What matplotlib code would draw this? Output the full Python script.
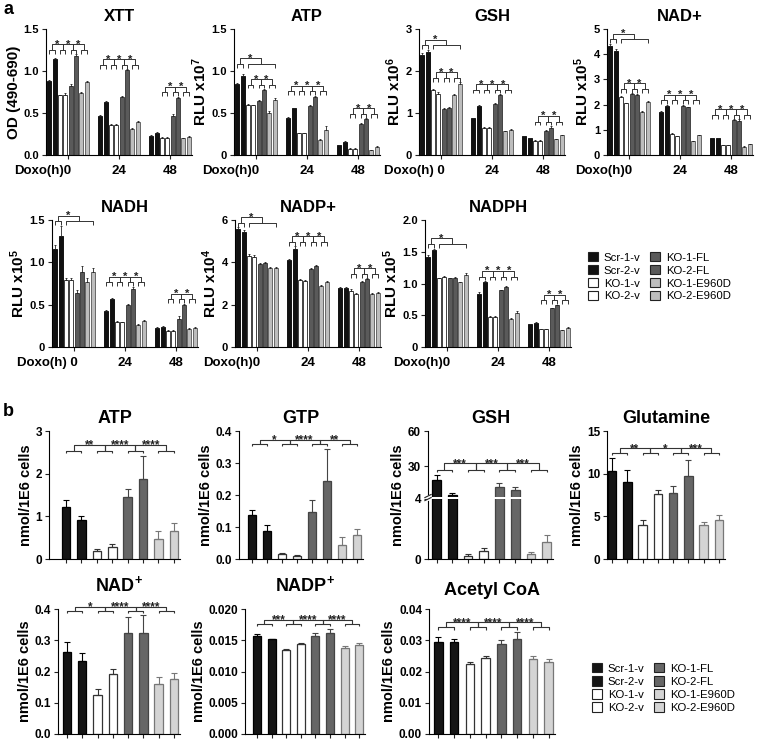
import numpy as np
import matplotlib
matplotlib.use('Agg')
import matplotlib.pyplot as plt
from matplotlib.patches import Patch
from matplotlib.transforms import ScaledTranslation

plt.rcParams['font.family'] = ['Liberation Sans', 'DejaVu Sans']
plt.rcParams['mathtext.fontset'] = 'custom'
plt.rcParams['mathtext.rm'] = 'Liberation Sans:bold'
plt.rcParams['mathtext.bf'] = 'Liberation Sans:bold'
plt.rcParams['mathtext.it'] = 'Liberation Sans:bold'
plt.rcParams['axes.linewidth'] = 0.8

# ---------------- data ----------------
lines = ['Scr-1-v', 'Scr-2-v', 'KO-1-v', 'KO-2-v', 'KO-1-FL', 'KO-2-FL', 'KO-1-E960D', 'KO-2-E960D']
doxo_hours = ['0', '24', '48']

# panel a: rows = doxo 0 / 24 / 48 h, columns = cell lines
xtt = [[0.885, 1.14, 0.71, 0.72, 0.82, 1.18, 0.74, 0.87],
       [0.47, 0.63, 0.36, 0.36, 0.69, 1.01, 0.31, 0.39],
       [0.23, 0.265, 0.205, 0.205, 0.47, 0.68, 0.20, 0.22]]
xtt_err = [[0.01, 0.01, 0.01, 0.015, 0.02, 0.02, 0.01, 0.01],
           [0.01, 0.01, 0.005, 0.005, 0.015, 0.01, 0.01, 0.01],
           [0.005, 0.005, 0.005, 0.005, 0.015, 0.015, 0.005, 0.01]]
atp_a = [[0.84, 0.945, 0.60, 0.59, 0.64, 0.775, 0.50, 0.66],
         [0.44, 0.555, 0.26, 0.26, 0.585, 0.695, 0.18, 0.30],
         [0.12, 0.16, 0.075, 0.075, 0.37, 0.425, 0.06, 0.10]]
atp_a_err = [[0.015, 0.015, 0.01, 0.01, 0.01, 0.01, 0.02, 0.02],
             [0.01, 0.01, 0.005, 0.005, 0.01, 0.01, 0.01, 0.04],
             [0.005, 0.005, 0.005, 0.005, 0.01, 0.01, 0.005, 0.01]]
gsh_a = [[2.38, 2.46, 1.55, 1.46, 1.09, 1.13, 1.43, 1.69],
         [0.87, 1.17, 0.65, 0.65, 1.22, 1.43, 0.57, 0.60],
         [0.45, 0.40, 0.34, 0.34, 0.56, 0.65, 0.37, 0.47]]
gsh_a_err = [[0.06, 0.05, 0.03, 0.03, 0.02, 0.02, 0.03, 0.04],
             [0.02, 0.03, 0.01, 0.01, 0.02, 0.02, 0.01, 0.01],
             [0.01, 0.01, 0.01, 0.01, 0.03, 0.04, 0.02, 0.01]]
nad_a = [[4.34, 4.14, 2.29, 2.05, 2.42, 2.39, 1.71, 2.10],
         [1.71, 1.96, 0.83, 0.75, 1.96, 1.89, 0.55, 0.78],
         [0.66, 0.66, 0.38, 0.38, 1.37, 1.36, 0.32, 0.43]]
nad_a_err = [[0.07, 0.05, 0.04, 0.03, 0.03, 0.04, 0.03, 0.03],
             [0.03, 0.03, 0.03, 0.02, 0.03, 0.03, 0.02, 0.02],
             [0.02, 0.02, 0.02, 0.02, 0.05, 0.05, 0.02, 0.02]]
nadh_a = [[1.16, 1.31, 0.79, 0.79, 0.64, 0.89, 0.77, 0.89],
          [0.43, 0.57, 0.30, 0.29, 0.50, 0.69, 0.265, 0.31],
          [0.23, 0.24, 0.19, 0.19, 0.33, 0.50, 0.21, 0.23]]
nadh_a_err = [[0.05, 0.12, 0.03, 0.03, 0.03, 0.07, 0.04, 0.04],
              [0.01, 0.01, 0.01, 0.01, 0.01, 0.02, 0.01, 0.01],
              [0.005, 0.005, 0.005, 0.005, 0.04, 0.01, 0.01, 0.01]]
nadp_a = [[5.58, 5.42, 4.30, 4.25, 3.90, 3.97, 3.75, 3.75],
          [4.10, 4.65, 3.16, 3.11, 3.69, 3.83, 2.88, 3.07],
          [2.80, 2.80, 2.65, 2.52, 3.05, 3.19, 2.50, 2.55]]
nadp_a_err = [[0.08, 0.10, 0.08, 0.08, 0.08, 0.05, 0.05, 0.05],
              [0.08, 0.10, 0.06, 0.05, 0.05, 0.06, 0.05, 0.06],
              [0.05, 0.05, 0.07, 0.05, 0.05, 0.06, 0.05, 0.05]]
nadph_a = [[1.42, 1.52, 1.08, 1.11, 1.08, 1.09, 1.02, 1.14],
           [0.84, 1.02, 0.48, 0.48, 0.89, 0.95, 0.445, 0.54],
           [0.36, 0.38, 0.28, 0.28, 0.61, 0.655, 0.27, 0.30]]
nadph_a_err = [[0.03, 0.03, 0.01, 0.01, 0.01, 0.01, 0.01, 0.03],
               [0.02, 0.02, 0.01, 0.01, 0.01, 0.01, 0.01, 0.02],
               [0.01, 0.01, 0.005, 0.005, 0.01, 0.01, 0.005, 0.01]]

# panel b: one value per cell line
atp_b = [1.21, 0.91, 0.19, 0.28, 1.46, 1.87, 0.48, 0.65]
atp_b_err = [0.17, 0.09, 0.035, 0.07, 0.17, 0.55, 0.165, 0.20]
gtp_b = [0.138, 0.088, 0.0155, 0.008, 0.148, 0.245, 0.045, 0.076]
gtp_b_err = [0.014, 0.017, 0.0035, 0.004, 0.036, 0.10, 0.025, 0.017]
gsh_b = [18.3, 5.6, 0.22, 0.51, 12.7, 9.8, 0.35, 1.10]
gsh_b_err = [3.9, 1.9, 0.11, 0.22, 2.8, 2.8, 0.09, 0.51]
glut_b = [10.3, 9.07, 4.0, 7.6, 7.7, 9.73, 3.93, 4.6]
glut_b_err = [1.5, 1.35, 0.6, 0.5, 0.86, 1.87, 0.4, 0.57]
nad_b = [0.264, 0.235, 0.125, 0.193, 0.324, 0.324, 0.160, 0.177]
nad_b_err = [0.032, 0.025, 0.019, 0.014, 0.049, 0.056, 0.024, 0.018]
nadp_b = [0.01567, 0.01514, 0.01352, 0.01436, 0.01567, 0.0162, 0.01384, 0.01425]
nadp_b_err = [0.0003, 0.0001, 0.00016, 0.00024, 0.0005, 0.0006, 0.00026, 0.00035]
acoa_b = [0.02956, 0.02945, 0.02245, 0.0243, 0.0287, 0.0305, 0.0240, 0.0230]
acoa_b_err = [0.0015, 0.0010, 0.0005, 0.0008, 0.0013, 0.0022, 0.0009, 0.0010]

atp_b_stars = ['**', '****', '****']
gtp_b_stars = ['*', '****', '**']
gsh_b_stars = ['***', '***', '***']
glut_b_stars = ['**', '*', '***']
nad_b_stars = ['*', '****', '****']
nadp_b_stars = ['***', '****', '****']
acoa_b_stars = ['****', '****', '****']

# ---------------- styles ----------------
fill_a = ['#111111', '#111111', '#ffffff', '#ffffff', '#5a5a5a', '#5a5a5a', '#bdbdbd', '#bdbdbd']
edge_a = ['#000000', '#000000', '#222222', '#222222', '#333333', '#333333', '#555555', '#555555']
fill_b = ['#151515', '#151515', '#ffffff', '#ffffff', '#666666', '#666666', '#d4d4d4', '#d4d4d4']
edge_b = ['#000000', '#000000', '#333333', '#333333', '#444444', '#444444', '#777777', '#777777']
LINE_C = '#333333'

W, H = 758, 742
fig = plt.figure(figsize=(W / 100, H / 100), dpi=100)


def add_ax(l, t, r, b):
    return fig.add_axes([l / W, 1 - b / H, (r - l) / W, (b - t) / H])


def star(ax, x, y, s, fs):
    ax.annotate(s, xy=(x, y), xytext=(0, -(0.43 * fs - 1.0)), textcoords='offset points',
                ha='center', va='baseline', fontsize=fs, fontweight='bold', color='#222222',
                annotation_clip=False)


def bracket(ax, x1, x2, y, drop, lw=0.7):
    ax.plot([x1, x1, x2, x2], [y - drop, y, y, y - drop], color=LINE_C, lw=lw,
            clip_on=False, zorder=5, solid_capstyle='butt')


def style_axis(ax):
    for s in ['top', 'right']:
        ax.spines[s].set_visible(False)
    ax.tick_params(axis='both', length=3, width=0.8, pad=2, color='#222222')


ALL4 = ([0, 1, 2, 3], [(0, 1), (1, 2), (2, 3)])
LAST3 = ([1, 2, 3], [(1, 2), (2, 3)])
NONE = ([], [])

STEP_A = 0.105
WIDTH_A = 0.08


def draw_a(box, vals, errs, ymax, yticks, ytl, ylabel, title, brackets, doxo='Doxo(h)0'):
    ax = add_ax(*box)
    style_axis(ax)
    offs = (np.arange(8) - 3.5) * STEP_A
    for g in range(3):
        xs = g + offs
        ax.bar(xs, vals[g], width=WIDTH_A, color=fill_a, edgecolor=edge_a, linewidth=0.6, zorder=2)
        ax.errorbar(xs, vals[g], yerr=[np.zeros(8), errs[g]], fmt='none', ecolor='#222222',
                    elinewidth=0.6, capsize=1.0, capthick=0.6, zorder=3)
    ax.set_xlim(-0.43, 2.43)
    ax.set_ylim(0, ymax)
    ax.set_yticks(yticks)
    ax.set_yticklabels(ytl, fontsize=8, fontweight='bold')
    ax.set_xticks([0, 1, 2])
    labs = ax.set_xticklabels([doxo] + doxo_hours[1:], fontsize=9.5, fontweight='bold')
    ax.tick_params(axis='x', pad=4)
    labs[0].set_ha('right')
    labs[0].set_transform(labs[0].get_transform() + ScaledTranslation(2.7 / 72, 0, fig.dpi_scale_trans))
    ax.set_ylabel(ylabel, fontsize=11, fontweight='bold', labelpad=2)
    ax.set_title(title, fontsize=12, fontweight='bold', pad=6)

    pad = 0.035 * ymax
    d = 0.045 * ymax
    tick = 0.03 * ymax
    for g in range(3):
        xs = g + offs
        tops = np.array(vals[g]) + np.array(errs[g])
        top_flag, (pairs, links) = brackets[g]
        lconn = None
        if pairs:
            idx = [k for p in pairs for k in (2 * p, 2 * p + 1)]
            L = tops[idx].max() + pad
            centers = {}
            for p in pairs:
                bracket(ax, xs[2 * p], xs[2 * p + 1], L, tick)
                centers[p] = (xs[2 * p] + xs[2 * p + 1]) / 2
            lconn = L + d
            for (p, q) in links:
                bracket(ax, centers[p], centers[q], lconn, d)
                star(ax, (centers[p] + centers[q]) / 2, lconn, '*', 8)
        if top_flag:
            Lt = tops.max() + pad
            if lconn is not None:
                Lt = max(Lt, lconn + 0.12 * ymax)
            bracket(ax, xs[0], xs[1], Lt, tick)
            bracket(ax, xs[2], xs[7], Lt, tick)
            c1 = (xs[0] + xs[1]) / 2
            c2 = (xs[2] + xs[7]) / 2
            bracket(ax, c1, c2, Lt + d, d)
            star(ax, (c1 + c2) / 2, Lt + d, '*', 8)
    return ax


# ---------- panel a ----------
draw_a((46, 29, 192, 155), xtt, xtt_err, 1.5, [0, 0.5, 1.0, 1.5], ['0.0', '0.5', '1.0', '1.5'],
       'OD (490-690)', 'XTT', [(False, ALL4), (False, ALL4), (False, LAST3)])
draw_a((234, 29, 380, 155), atp_a, atp_a_err, 1.5, [0, 0.5, 1.0, 1.5], ['0', '0.5', '1.0', '1.5'],
       r'RLU x10$^{7}$', 'ATP', [(True, LAST3), (False, ALL4), (False, LAST3)])
draw_a((419, 29, 565, 155), gsh_a, gsh_a_err, 3, [0, 1, 2, 3], ['0', '1', '2', '3'],
       r'RLU x10$^{6}$', 'GSH', [(True, LAST3), (False, ALL4), (False, LAST3)], doxo='Doxo(h) 0')
draw_a((607, 29, 753, 155), nad_a, nad_a_err, 5, [0, 1, 2, 3, 4, 5], ['0', '1', '2', '3', '4', '5'],
       r'RLU x10$^{5}$', 'NAD+', [(True, LAST3), (False, ALL4), (False, ALL4)])
draw_a((52, 220, 198, 347), nadh_a, nadh_a_err, 1.5, [0, 0.5, 1.0, 1.5], ['0', '0.5', '1.0', '1.5'],
       r'RLU x10$^{5}$', 'NADH', [(True, NONE), (False, ALL4), (False, LAST3)], doxo='Doxo(h) 0')
draw_a((235, 220, 381, 347), nadp_a, nadp_a_err, 6, [0, 2, 4, 6], ['0', '2', '4', '6'],
       r'RLU x10$^{4}$', 'NADP+', [(True, NONE), (False, ALL4), (False, LAST3)])
draw_a((425, 220, 571, 347), nadph_a, nadph_a_err, 2.0, [0, 0.5, 1.0, 1.5, 2.0],
       ['0', '0.5', '1.0', '1.5', '2.0'],
       r'RLU x10$^{5}$', 'NADPH', [(True, NONE), (False, ALL4), (False, LAST3)])

# ---------- panel b ----------
WIDTH_B = 0.55


def draw_b(box, xleft, vals, errs, ymax, yticks, ytl, title, stars, lv_pair, lv_conn, drop,
           scale=None, tpad=6):
    ax = add_ax(*box)
    style_axis(ax)
    if scale is not None:
        ax.set_yscale('function', functions=scale)
    xs = np.arange(8)
    ax.bar(xs, vals, width=WIDTH_B, color=fill_b, edgecolor=edge_b, linewidth=0.9, zorder=2)
    for i in range(8):
        ax.errorbar(xs[i], vals[i], yerr=[[0], [errs[i]]], fmt='none', ecolor=edge_b[i],
                    elinewidth=0.8, capsize=2.2, capthick=0.8, zorder=3)
    ax.set_xlim(xleft, 7.4)
    ax.set_ylim(0, ymax)
    ax.set_yticks(yticks)
    ax.set_yticklabels(ytl, fontsize=8.5, fontweight='bold')
    ax.set_xticks(xs)
    ax.set_xticklabels([])
    ax.set_ylabel('nmol/1E6 cells', fontsize=10.5, fontweight='bold', labelpad=2)
    ax.set_title(title, fontsize=13, fontweight='bold', pad=tpad)
    centers = []
    for p in range(4):
        bracket(ax, xs[2 * p], xs[2 * p + 1], lv_pair, drop, lw=0.8)
        centers.append((xs[2 * p] + xs[2 * p + 1]) / 2)
    for k in range(3):
        bracket(ax, centers[k], centers[k + 1], lv_conn, lv_conn - lv_pair, lw=0.8)
        star(ax, (centers[k] + centers[k + 1]) / 2, lv_conn, stars[k], 8.5)
    return ax


draw_b((49, 431, 180, 559), -1.11, atp_b, atp_b_err, 3, [0, 1, 2, 3], ['0', '1', '2', '3'],
       'ATP', atp_b_stars, 2.53, 2.68, 0.05)
draw_b((239, 431, 363, 559), -0.87, gtp_b, gtp_b_err, 0.4, [0, 0.1, 0.2, 0.3, 0.4],
       ['0.0', '0.1', '0.2', '0.3', '0.4'], 'GTP', gtp_b_stars, 0.36, 0.373, 0.007)


def gsh_fwd(v):
    v = np.asarray(v, dtype=float)
    return np.where(v <= 4, v * 0.1175,
                    np.where(v <= 4.5, 0.47 + (v - 4) * 0.04, 0.49 + (v - 4.5) * (0.51 / 55.5)))


def gsh_inv(f):
    f = np.asarray(f, dtype=float)
    return np.where(f <= 0.47, f / 0.1175,
                    np.where(f <= 0.49, 4 + (f - 0.47) / 0.04, 4.5 + (f - 0.49) * (55.5 / 0.51)))


axg = draw_b((428, 431, 553, 559), -0.54, gsh_b, gsh_b_err, 60, [0, 4, 30, 60],
             ['0', '4', '30', '60'], 'GSH', gsh_b_stars, 26.7, 32.4, 1.4,
             scale=(gsh_fwd, gsh_inv))
axg.axhspan(4.05, 4.45, xmin=0, xmax=1, color='white', zorder=4, lw=0)
for fy in (0.468, 0.492):
    axg.plot([-0.025, 0.025], [fy - 0.012, fy + 0.012], transform=axg.transAxes,
             color='#222222', lw=0.8, clip_on=False, zorder=6)
axg.plot([0, 0], [0.468, 0.492], transform=axg.transAxes, color='white', lw=2.0,
         clip_on=False, zorder=5)

draw_b((607, 431, 725, 559), -0.33, glut_b, glut_b_err, 15, [0, 5, 10, 15],
       ['0', '5', '10', '15'], 'Glutamine', glut_b_stars, 12.4, 12.95, 0.25)
draw_b((58, 609, 180, 734), -0.59, nad_b, nad_b_err, 0.4, [0, 0.1, 0.2, 0.3, 0.4],
       ['0.0', '0.1', '0.2', '0.3', '0.4'], r'NAD$^{+}$', nad_b_stars, 0.394, 0.407, 0.007,
       tpad=13)
draw_b((245, 609, 365, 734), -0.82, nadp_b, nadp_b_err, 0.02,
       [0, 0.005, 0.010, 0.015, 0.020], ['0.000', '0.005', '0.010', '0.015', '0.020'],
       r'NADP$^{+}$', nadp_b_stars, 0.0176, 0.0183, 0.00035, tpad=13)
draw_b((429, 609, 555, 734), -0.59, acoa_b, acoa_b_err, 0.04,
       [0, 0.01, 0.02, 0.03, 0.04], ['0.00', '0.01', '0.02', '0.03', '0.04'],
       'Acetyl CoA', acoa_b_stars, 0.0341, 0.0357, 0.0007, tpad=10)

# ---------- legends ----------
handles_a = [Patch(facecolor=fill_a[i], edgecolor='#222222', linewidth=0.8) for i in range(8)]
fig.legend(handles_a, lines, loc='upper left', bbox_to_anchor=(588 / W, 1 - 252 / H), ncol=2,
           frameon=False, fontsize=8.2, handlelength=0.9, handleheight=0.9, handletextpad=0.5,
           columnspacing=0.8, labelspacing=0.2, borderpad=0, borderaxespad=0)
handles_b = [Patch(facecolor=fill_b[i], edgecolor='#222222', linewidth=0.8) for i in range(8)]
fig.legend(handles_b, lines, loc='upper left', bbox_to_anchor=(592 / W, 1 - 663 / H), ncol=2,
           frameon=False, fontsize=8.2, handlelength=0.9, handleheight=0.9, handletextpad=0.5,
           columnspacing=0.8, labelspacing=0.22, borderpad=0, borderaxespad=0)

fig.text(3 / W, 1 - 1 / H, 'a', fontsize=13, fontweight='bold', va='top', ha='left')
fig.text(3 / W, 1 - 403 / H, 'b', fontsize=13, fontweight='bold', va='top', ha='left')

fig.savefig('out.png', dpi=100)
